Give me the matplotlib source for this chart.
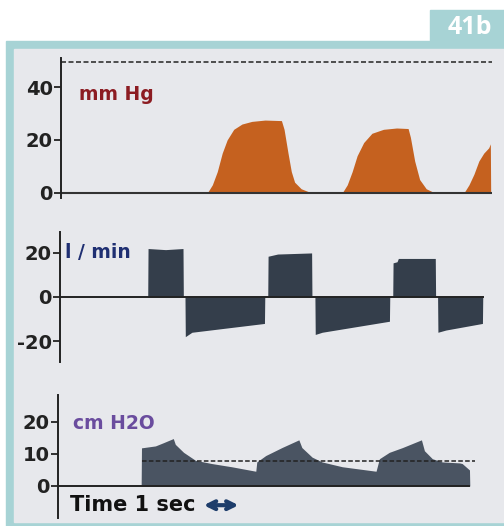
import matplotlib.pyplot as plt
from matplotlib.patches import Rectangle

plt.rcParams['axes.unicode_minus'] = False

# ventilator screen: capnogram, flow and airway pressure, time in seconds
co2_t = [0, 4.45, 4.6, 4.75, 4.9, 5.05, 5.25, 5.5, 5.8, 6.2, 6.7, 6.78, 6.9, 7.0, 7.1, 7.3, 7.6,
         8.55, 8.7, 8.85, 9.0, 9.2, 9.45, 9.8, 10.2, 10.55, 10.62, 10.75, 10.9, 11.1, 11.35,
         12.25, 12.4, 12.55, 12.7, 12.85, 13.0, 13.05, 13.06]
co2_v = [0, 0, 3, 8, 15, 20, 24, 26, 27, 27.5, 27.3, 24, 15, 8, 4, 1.5, 0,
         0, 3, 8, 14, 19, 22.5, 24, 24.5, 24.3, 21, 12, 5, 1.5, 0,
         0, 3, 7, 12, 15, 17, 18.5, 0]

flow_t = [0, 2.66, 2.67, 3.2, 3.73, 3.74, 3.79, 3.8, 4.0, 6.2, 6.21, 6.3, 6.31, 6.6, 7.63, 7.64,
          7.73, 7.74, 7.95, 9.99, 10.0, 10.09, 10.1, 10.22, 10.26, 11.38, 11.39, 11.45, 11.46,
          11.7, 12.81, 12.82]
flow_v = [0, 0, 22, 21.5, 22, 0, 0, -18, -16, -12, 0, 0, 18.5, 19.5, 20, 0,
          0, -17, -16, -11, 0, 0, 15.5, 16, 17.5, 17.5, 0, 0, -16,
          -15, -12, 0]

paw_t = [0, 2.51, 2.52, 2.94, 3.18, 3.48, 3.54, 3.79, 4.15, 4.64, 5.24, 5.97, 6.0, 6.27, 6.76, 7.27,
         7.36, 7.67, 7.97, 8.58, 9.6, 9.7, 10.0, 10.4, 10.97, 11.06, 11.3, 11.6, 12.12, 12.2,
         12.42, 12.43]
paw_v = [0, 0, 11.9, 12.5, 13.5, 14.8, 13, 10.5, 8, 7, 6, 4.6, 7.5, 9.5, 12, 14.4,
         12, 9, 7.5, 6, 4.6, 8.5, 10.5, 12, 14.4, 11, 8.5, 7.5, 7.2, 7,
         5, 0]

co2_ticks = [0, 20, 40]
flow_ticks = [-20, 0, 20]
paw_ticks = [0, 10, 20]
co2_limit = 49.5
peep = 7.8

W, H = 504, 526
fig = plt.figure(figsize=(W / 100, H / 100), dpi=100)
fig.patch.set_facecolor('white')

def px(x0, y0, x1, y1):
    # pixel box -> figure fraction rect
    return [x0 / W, 1 - y1 / H, (x1 - x0) / W, (y1 - y0) / H]

teal = '#a7d3d5'
frame = fig.add_axes([0, 0, 1, 1], zorder=-5)
frame.set_xlim(0, W)
frame.set_ylim(H, 0)
frame.axis('off')
frame.add_patch(Rectangle((6, 41), W - 6, H - 41, color=teal))
frame.add_patch(Rectangle((14, 49), W - 14, 473, color='#e7e8ec'))
frame.add_patch(Rectangle((430, 10), 74, 32, color=teal))
frame.text(470, 27, '41b', color='white', fontsize=18, fontweight='bold',
           ha='center', va='center', family='Open Sans')

lab_font = 'DejaVu Sans'

def style(ax, ticks, lim):
    ax.set_facecolor('none')
    for s in ['top', 'right', 'bottom']:
        ax.spines[s].set_visible(False)
    ax.spines['left'].set_linewidth(1.4)
    ax.spines['left'].set_color('#222222')
    ax.set_xlim(0, 13.1)
    ax.set_ylim(*lim)
    ax.set_xticks([])
    ax.set_yticks(ticks)
    ax.tick_params(axis='y', length=5, width=1.3, color='#222222', pad=1,
                   labelsize=14, labelcolor='#222222')
    for lab in ax.get_yticklabels():
        lab.set_fontweight('bold')
        lab.set_family(lab_font)

# capnogram
ax1 = fig.add_axes(px(61, 58, 492, 198))
style(ax1, co2_ticks, (-2, 51))
ax1.fill_between(co2_t, 0, co2_v, color='#c5611f', lw=0)
ax1.axhline(0, color='#333333', lw=1.5)
ax1.axhline(co2_limit, color='#333333', lw=1.2, ls=(0, (3, 1.5)))
ax1.text(0.55, 37, 'mm Hg', color='#8c1c22', fontsize=13.5, fontweight='bold',
         family=lab_font, va='center')

# flow
ax2 = fig.add_axes(px(60, 232, 492, 362))
style(ax2, flow_ticks, (-29.5, 29.5))
ax2.fill_between(flow_t, 0, flow_v, color='#343e4b', lw=0)
ax2.plot([0, 12.82], [0, 0], color='#222222', lw=1.4)
ax2.text(0.15, 20, 'l / min', color='#1f2f72', fontsize=13.5, fontweight='bold',
         family=lab_font, va='center')

# airway pressure
ax3 = fig.add_axes(px(58, 395, 492, 518))
style(ax3, paw_ticks, (-10, 28.4))
ax3.fill_between(paw_t, 0, paw_v, color='#4a5462', lw=0)
ax3.plot([0, 12.42], [0, 0], color='#222222', lw=1.4)
ax3.plot([2.55, 12.6], [peep, peep], color='#222222', lw=1.1, ls=(0, (3, 1.5)))
ax3.text(0.45, 19.5, 'cm H2O', color='#6a4c9e', fontsize=13.5, fontweight='bold',
         family=lab_font, va='center')
ax3.text(0.35, -6, 'Time 1 sec', color='#111111', fontsize=15, fontweight='bold',
         family=lab_font, va='center')
ax3.annotate('', xy=(4.4, -6), xytext=(5.45, -6),
             arrowprops=dict(arrowstyle='<->', color='#1d3d6b', lw=3,
                             mutation_scale=14, shrinkA=0, shrinkB=0))

fig.savefig('out.png', dpi=100)
